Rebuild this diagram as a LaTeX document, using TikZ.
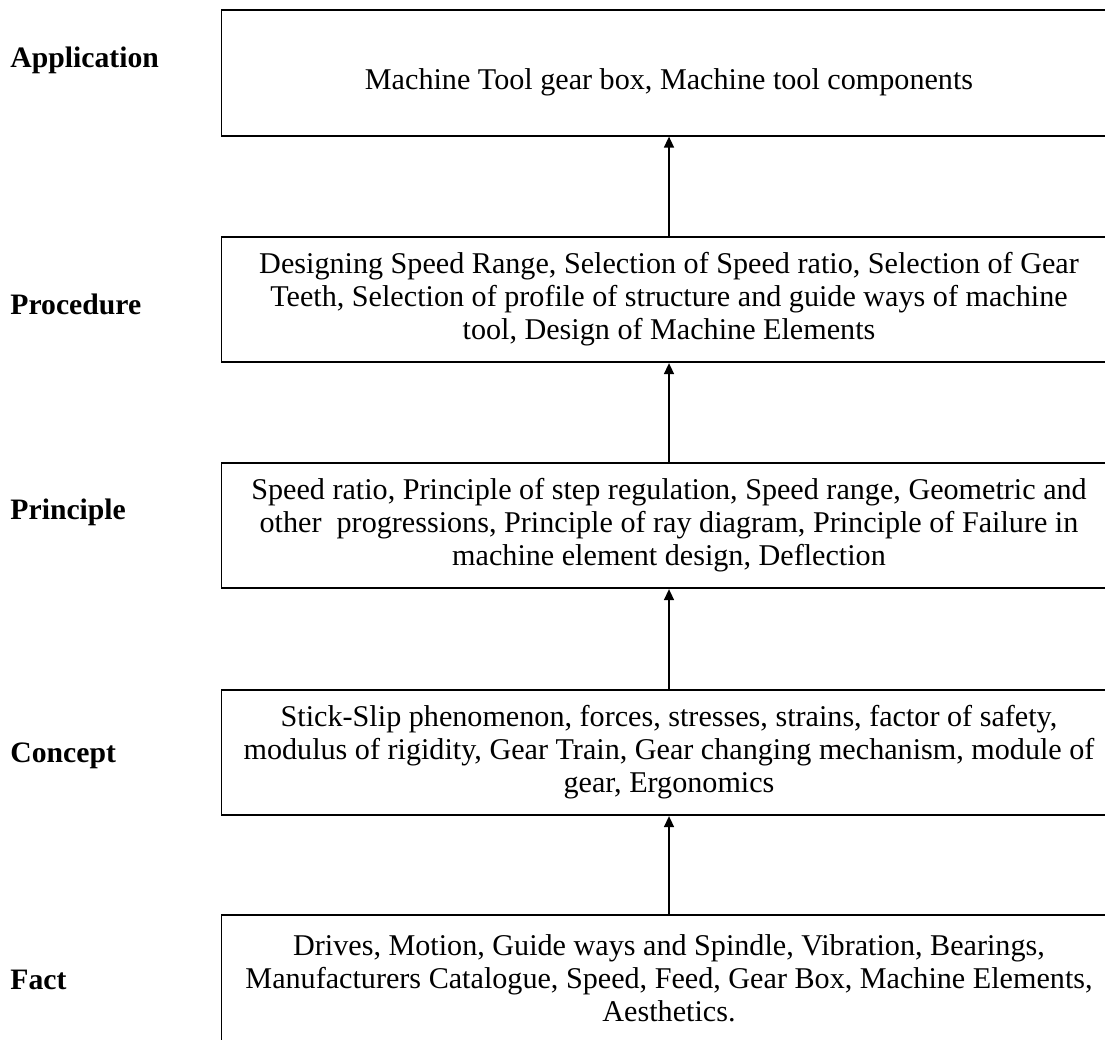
\documentclass[tikz,border=0pt]{standalone}
\usepackage{fontspec}
\setmainfont{Liberation Serif}
\usetikzlibrary{arrows.meta}
\tikzset{
  levelbox/.style={draw, line width=0.7pt, minimum width=374pt, minimum height=52.5pt,
    align=center, inner sep=0pt, font=\fontsize{12.6}{13.8}\selectfont},
  levellabel/.style={anchor=west, inner sep=0pt, font=\fontsize{12.4}{13.8}\selectfont\bfseries},
  uparrow/.style={line width=0.6pt, -{Triangle[length=4.6pt,width=4.2pt]}}
}
\begin{document}
\begin{tikzpicture}[x=0.418pt, y=-0.418pt]
\clip (0,0) rectangle (1105,1039);
\useasboundingbox (0,0) rectangle (1105,1039);
% boxes, top to bottom
\node[levelbox, text height=17pt, text depth=3pt] (app) at (669,73) {Machine Tool gear box, Machine tool components};
\node[levelbox] (proc) at (669,299.5) {Designing Speed Range, Selection of Speed ratio, Selection of Gear\\
Teeth, Selection of profile of structure and guide ways of machine\\
tool, Design of Machine Elements};
\node[levelbox] (princ) at (669,525.5) {Speed ratio, Principle of step regulation, Speed range, Geometric and\\
other\ \ progressions, Principle of ray diagram, Principle of Failure in\\
machine element design, Deflection};
\node[levelbox] (conc) at (669,752.5) {Stick-Slip phenomenon, forces, stresses, strains, factor of safety,\\
modulus of rigidity, Gear Train, Gear changing mechanism, module of\\
gear, Ergonomics};
\node[levelbox] (fact) at (669,978) {Drives, Motion, Guide ways and Spindle, Vibration, Bearings,\\
Manufacturers Catalogue, Speed, Feed, Gear Box, Machine Elements,\\
Aesthetics.};
% level names
\node[levellabel] (lapp) at (10,60) {Application};
\node[levellabel] (lproc) at (10,304) {Procedure};
\node[levellabel] (lprinc) at (10,512) {Principle};
\node[levellabel] (lconc) at (10,756) {Concept};
\node[levellabel] (lfact) at (10,980) {Fact};
% arrows
\draw[uparrow] (fact.north) -- (conc.south);
\draw[uparrow] (conc.north) -- (princ.south);
\draw[uparrow] (princ.north) -- (proc.south);
\draw[uparrow] (proc.north) -- (app.south);
\end{tikzpicture}
\end{document}
